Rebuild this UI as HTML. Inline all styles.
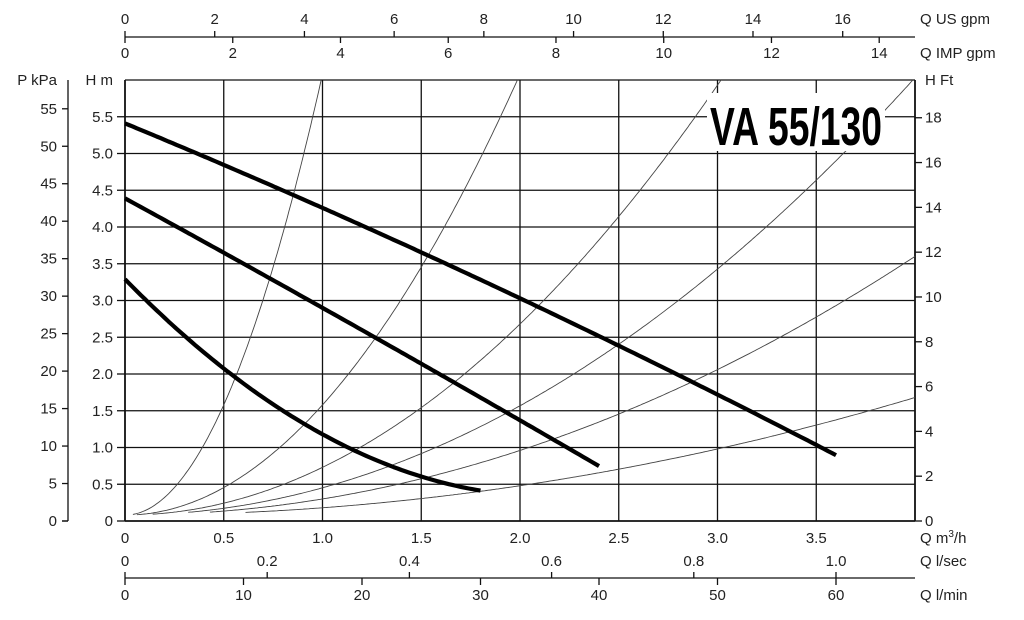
<!DOCTYPE html>
<html><head><meta charset="utf-8"><style>
html,body{margin:0;padding:0;background:#fff;width:1024px;height:620px;overflow:hidden}
svg text{font-family:"Liberation Sans",sans-serif;font-size:15px;fill:#222}
</style></head><body>
<svg id="s" width="1024" height="620" viewBox="0 0 1024 620" xmlns="http://www.w3.org/2000/svg"></svg>
<script>
var s=document.getElementById('s'),o='';
var X0=125,XS=197.5,Y0=521,YS=73.5;
function x(q){return X0+q*XS}function y(h){return Y0-h*YS}
function L(a,b,c,d,w,col){o+='<line x1="'+a+'" y1="'+b+'" x2="'+c+'" y2="'+d+'" stroke="'+(col||'#111')+'" stroke-width="'+(w||1.3)+'"/>';}
function T(t,a,b,anc){o+='<text x="'+a+'" y="'+b+'" text-anchor="'+(anc||'middle')+'">'+t+'</text>';}
for(var i=0;i<=8;i++){L(x(i*0.5),80,x(i*0.5),521,i==0||i==8?1.8:1.3);}
for(var j=0;j<=12;j++){L(125,y(j*0.5),915,y(j*0.5),j==0?1.8:1.3);}
for(var j=0;j<=11;j++){var h=j*0.5;L(117,y(h),125,y(h));T(j==0?'0':h.toFixed(1),113,y(h)+5,'end');}
T('H m',113,85,'end');
L(68,80,68,521);L(62,521,68,521);
for(var k=0;k<=55;k+=5){var yy=y(k*0.10197);L(62,yy,68,yy);T(''+k,57,yy+5,'end');}
T('P kPa',57,85,'end');
for(var f=0;f<=18;f+=2){var yy=y(f*0.3048);L(915,yy,922,yy);T(''+f,925,yy+5,'start');}
T('H Ft',925,85,'start');
for(var i=0;i<=7;i++){T(i==0?'0':(i*0.5).toFixed(1),x(i*0.5),543);}
o+='<text x="920" y="543" text-anchor="start">Q m<tspan dy="-6" font-size="10">3</tspan><tspan dy="6">/h</tspan></text>';
L(125,578,915,578);
for(var v=0;v<=5;v++){var xx=x(v*0.2*3.6);L(xx,572,xx,578);T(v==0?'0':(v*0.2).toFixed(1),xx,566);}
T('Q l/sec',920,566,'start');
for(var m=0;m<=60;m+=10){var xx=x(m*0.06);L(xx,578,xx,585);T(''+m,xx,600);}
T('Q l/min',920,600,'start');
L(125,37,915,37);
for(var g=0;g<=16;g+=2){var xx=x(g*0.22712);L(xx,31,xx,37);T(''+g,xx,24);}
T('Q US gpm',920,24,'start');
for(var g=0;g<=14;g+=2){var xx=x(g*0.27277);L(xx,37,xx,43);T(''+g,xx,58);}
T('Q IMP gpm',920,58,'start');
var sys=[[6,0.04],[1.5,0.06],[0.65,0.14],[0.372,0.32],[0.22,0.43],[0.1,0.61]];
sys.forEach(function(c){var p=[];for(var q=c[1];q<=4.001;q+=0.01){var h=0.08+c[0]*q*q;if(h>6){q=Math.sqrt((6-0.08)/c[0]);h=6;p.push(x(q).toFixed(1)+','+y(h).toFixed(1));break;}p.push(x(q).toFixed(1)+','+y(h).toFixed(1));}
o+='<polyline fill="none" stroke="#444" stroke-width="0.9" points="'+p.join(' ')+'"/>';});
function pc(f,q1){var p=[];for(var q=0;q<=q1+1e-6;q+=0.02)p.push(x(q).toFixed(1)+','+y(f(q)).toFixed(1));o+='<polyline fill="none" stroke="#000" stroke-width="4.2" stroke-linejoin="round" points="'+p.join(' ')+'"/>';}
pc(function(q){return 5.41-1.11*q-0.04*q*q;},3.6);
pc(function(q){return 4.39-1.47*q-0.02*q*q;},2.4);
pc(function(q){return 3.29-2.75*q+0.64*q*q;},1.8);
o+='<rect x="707" y="93" width="178" height="58" fill="#fff"/>';
o+='<text x="796" y="145" text-anchor="middle" style="font-family:\'Liberation Sans Narrow\',\'Liberation Sans\',sans-serif;font-size:54px;font-weight:bold;fill:#000" textLength="172" lengthAdjust="spacingAndGlyphs">VA 55/130</text>';
s.innerHTML=o;
</script>
</body></html>
